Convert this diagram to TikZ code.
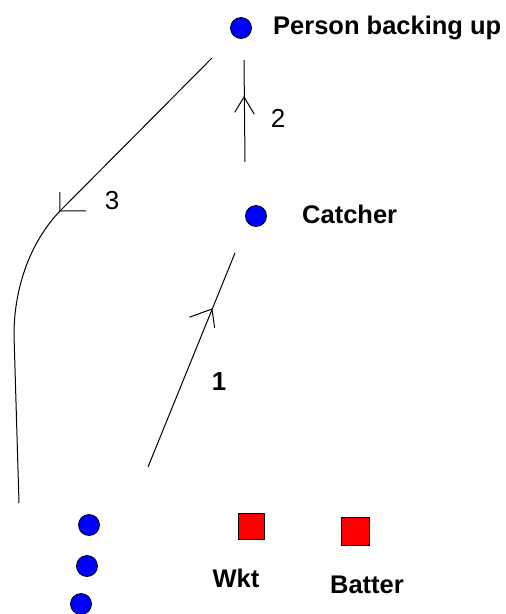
\documentclass[tikz,border=0pt]{standalone}
\usepackage{fontspec}
\setmainfont{Liberation Sans}
\usetikzlibrary{calc}
\begin{document}
\begin{tikzpicture}[x=1pt,y=-1pt,
  fielder/.style={circle,fill={rgb,255:red,0;green,0;blue,255},draw=black,line width=0.8pt,minimum size=21pt,inner sep=0pt},
  wicket/.style={rectangle,fill={rgb,255:red,255;green,0;blue,0},draw=black,line width=1pt,minimum size=26pt,inner sep=0pt},
  lbl/.style={font=\fontsize{25.5}{28}\selectfont\bfseries,anchor=west,inner sep=0pt},
  num/.style={font=\fontsize{26}{28}\selectfont,inner sep=0pt},
  run/.style={line width=1pt,black},
  barb/.style={line width=1pt,black}]
\fill[white] (0,0) rectangle (506,614);
\useasboundingbox (0,0) rectangle (506,614);
% fielders
\node[fielder] (backup) at (241,28) {};
\node[lbl] (tbackup) at (273,28) {Person backing up};
\node[fielder] (catcher) at (256,216) {};
\node[lbl] (tcatcher) at (302,214) {Catcher};
\node[fielder] (f1) at (89,525) {};
\node[fielder] (f2) at (87,566) {};
\node[fielder] (f3) at (81,604) {};
% wickets / batter
\node[wicket] (wkt) at (251,526) {};
\node[lbl,anchor=center] (twkt) at (236,578) {Wkt};
\node[wicket,minimum size=28pt] (batter) at (355,531) {};
\node[lbl,anchor=center] (tbatter) at (367,585) {Batter};
% run 1
\coordinate (s1) at (148,467);
\coordinate (m1) at (212,309);
\coordinate (e1) at (235,253);
\draw[run] (s1) -- (e1);
\draw[barb] ($(m1)!24pt!-48:(s1)$) -- (m1) -- ($(m1)!19pt!30:(s1)$);
\node[num,font=\fontsize{26}{28}\selectfont\bfseries] (n1) at (219,382) {1};
% run 2
\coordinate (s2) at (245,162);
\coordinate (m2) at (244,97);
\coordinate (e2) at (244,60);
\draw[run] (s2) -- (e2);
\draw[barb] ($(m2)!20pt!30:(s2)$) -- (m2) -- ($(m2)!18pt!-32:(s2)$);
\node[num] (n2) at (278,118) {2};
% run 3
\coordinate (s3) at (212,58);
\coordinate (m3) at (60,211);
\coordinate (c3) at (14,335);
\coordinate (e3) at (19,503);
\draw[run] (s3) -- (m3);
\draw[run] (m3) .. controls (32,240) and (14,285) .. (c3) -- (e3);
\draw[barb] ($(m3)!26pt!-45:(s3)$) -- (m3) -- ($(m3)!19pt!45:(s3)$);
\node[num] (n3) at (112,201) {3};
\end{tikzpicture}
\end{document}
